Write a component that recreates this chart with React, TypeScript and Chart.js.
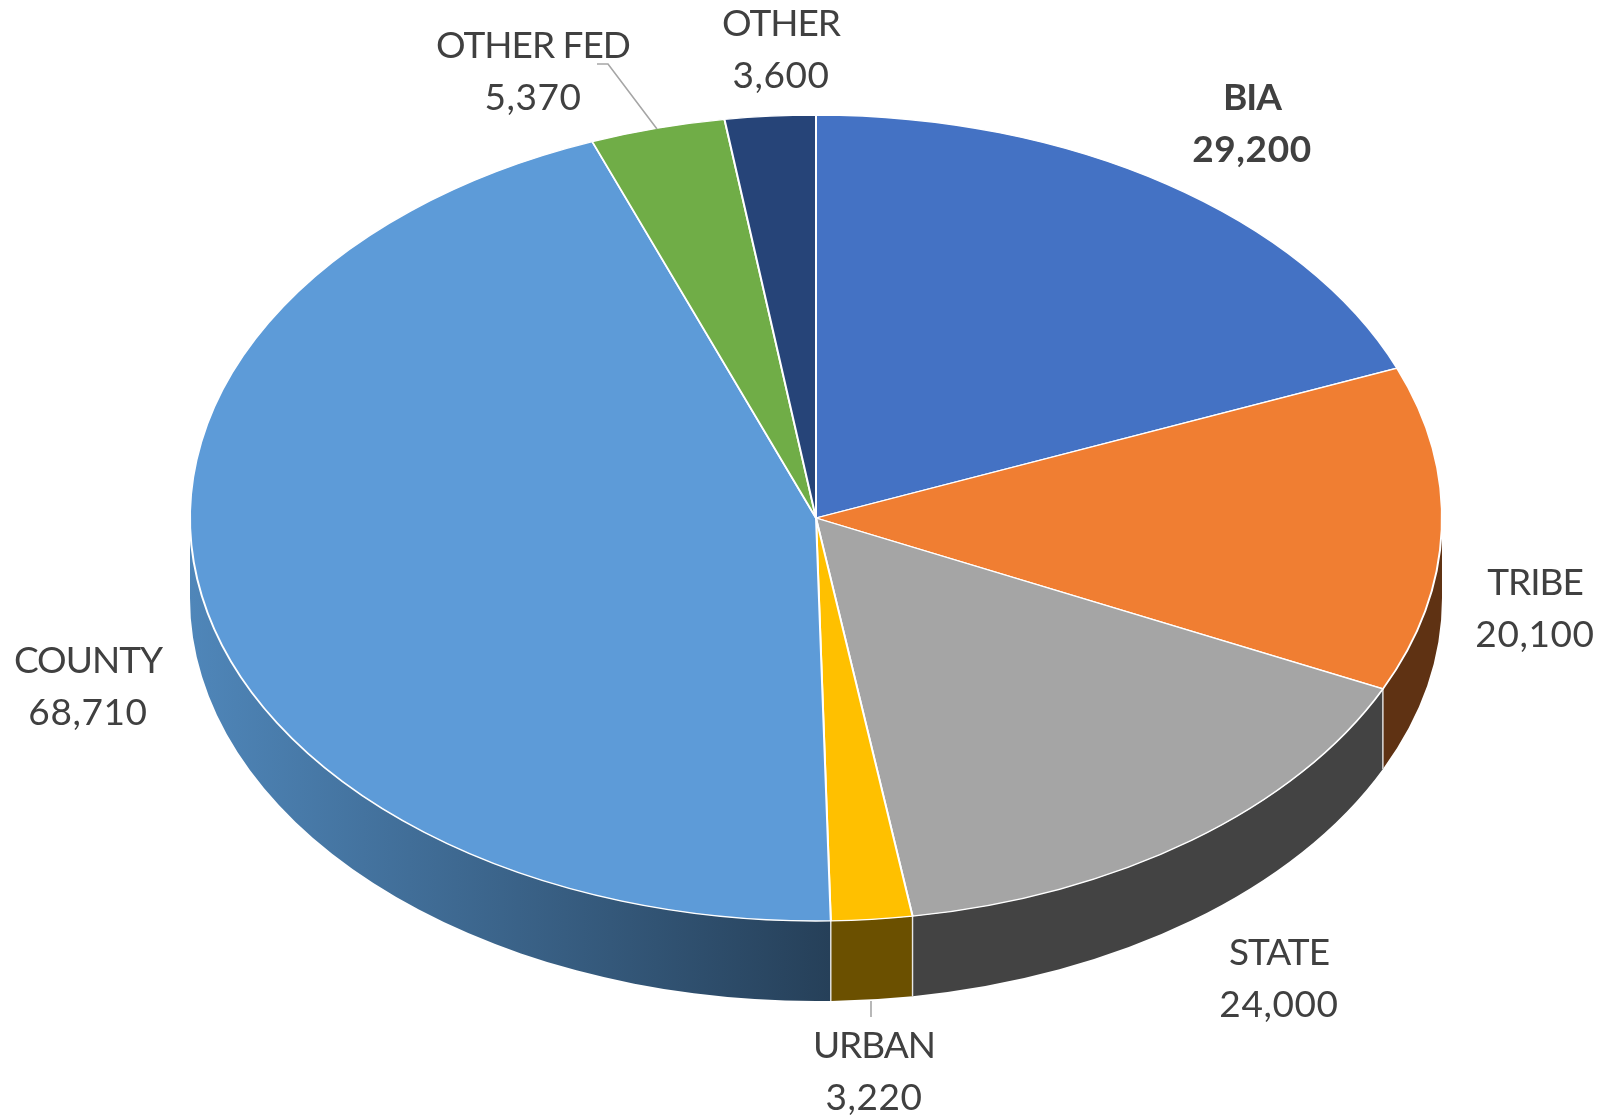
import React, { useEffect, useRef } from "react";
import { Chart, registerables } from "chart.js";

Chart.register(...registerables);

const categories = ["BIA", "TRIBE", "STATE", "URBAN", "COUNTY", "OTHER FED", "OTHER"];
const values = [29200, 20100, 24000, 3220, 68710, 5370, 3600];
const topColors = ["#4472c4", "#f07e32", "#a5a5a5", "#ffc000", "#5d9bd8", "#70ad47", "#264478"];
const wallColors = ["#2c4a80", "#5f3213", "#434343", "#6b5000", "", "#45702c", "#182c4f"];
const countyWallStops = ["#4f86b9", "#264059"];

const FONT = 'Lato, "Open Sans", sans-serif';
const FONT_SIZE = 37;
const LINE_GAP = 52;
const RADIUS = 626;
const SQUASH = 403 / RADIUS;
const DEPTH = 80;

// Label anchor (centre of the first line) for each category, in canvas pixels.
const labelAnchors = [
  [1252, 98], [1535, 583], [1279, 953], [874, 1046], [88, 661], [533, 46], [781, 24],
];
const leaderLines = [
  [[597, 64], [608, 64], [657, 129]],
  [[871, 1001], [871, 1017]],
];

const pie3d = {
  id: "pie3d",
  beforeDatasetsDraw(chart: any) {
    const ctx = chart.ctx;
    const arcs = chart.getDatasetMeta(0).data;
    const { x: cx, y: cy, outerRadius: r } = arcs[0];
    const ry = r * SQUASH;
    ctx.save();
    arcs.forEach((arc: any, i: number) => {
      const a0 = Math.max(arc.startAngle, 0);
      const a1 = Math.min(arc.endAngle, Math.PI);
      if (a1 <= a0) return;
      ctx.beginPath();
      ctx.ellipse(cx, cy, r, ry, 0, a0, a1);
      ctx.ellipse(cx, cy + DEPTH, r, ry, 0, a1, a0, true);
      ctx.closePath();
      if (wallColors[i]) {
        ctx.fillStyle = wallColors[i];
      } else {
        const g = ctx.createLinearGradient(cx - r, 0, cx + 14, 0);
        g.addColorStop(0, countyWallStops[0]);
        g.addColorStop(1, countyWallStops[1]);
        ctx.fillStyle = g;
      }
      ctx.fill();
    });
    ctx.strokeStyle = "#e8e8e8";
    ctx.lineWidth = 1.4;
    arcs.forEach((arc: any) => {
      const a = arc.startAngle;
      if (a > 0 && a < Math.PI) {
        const px = cx + r * Math.cos(a);
        const py = cy + ry * Math.sin(a);
        ctx.beginPath();
        ctx.moveTo(px, py);
        ctx.lineTo(px, py + DEPTH);
        ctx.stroke();
      }
    });
    ctx.restore();

    ctx.save();
    ctx.translate(cx, cy);
    ctx.scale(1, SQUASH);
    ctx.translate(-cx, -cy);
  },
  afterDatasetsDraw(chart: any) {
    const ctx = chart.ctx;
    ctx.restore();
    ctx.save();
    ctx.strokeStyle = "#a6a6a6";
    ctx.lineWidth = 1.6;
    leaderLines.forEach((pts) => {
      ctx.beginPath();
      pts.forEach(([x, y], i) => (i ? ctx.lineTo(x, y) : ctx.moveTo(x, y)));
      ctx.stroke();
    });
    ctx.fillStyle = "#404040";
    ctx.textAlign = "center";
    ctx.textBaseline = "middle";
    categories.forEach((name, i) => {
      ctx.font = `${i === 0 ? "bold " : ""}${FONT_SIZE}px ${FONT}`;
      const [x, y] = labelAnchors[i];
      ctx.letterSpacing = "-1px";
      ctx.fillText(name, x, y);
      ctx.letterSpacing = "0.6px";
      ctx.fillText(values[i].toLocaleString("en-US"), x, y + LINE_GAP);
    });
    ctx.restore();
  },
};

export default function App() {
  const ref = useRef<HTMLCanvasElement>(null);
  useEffect(() => {
    const chart = new Chart(ref.current!, {
      type: "pie",
      data: {
        labels: categories,
        datasets: [
          {
            data: values,
            backgroundColor: topColors,
            borderColor: "#ffffff",
            borderWidth: 2,
            radius: RADIUS,
            clip: false,
          } as any,
        ],
      },
      options: {
        responsive: false,
        animation: false,
        layout: { padding: { left: 29, bottom: 83 } },
        plugins: { legend: { display: false }, tooltip: { enabled: false } },
      },
      plugins: [pie3d],
    });
    return () => chart.destroy();
  }, []);
  return (
    <canvas
      ref={ref}
      width={1603}
      height={1119}
      style={{ position: "absolute", left: 0, top: 0, background: "#ffffff" }}
    />
  );
}
